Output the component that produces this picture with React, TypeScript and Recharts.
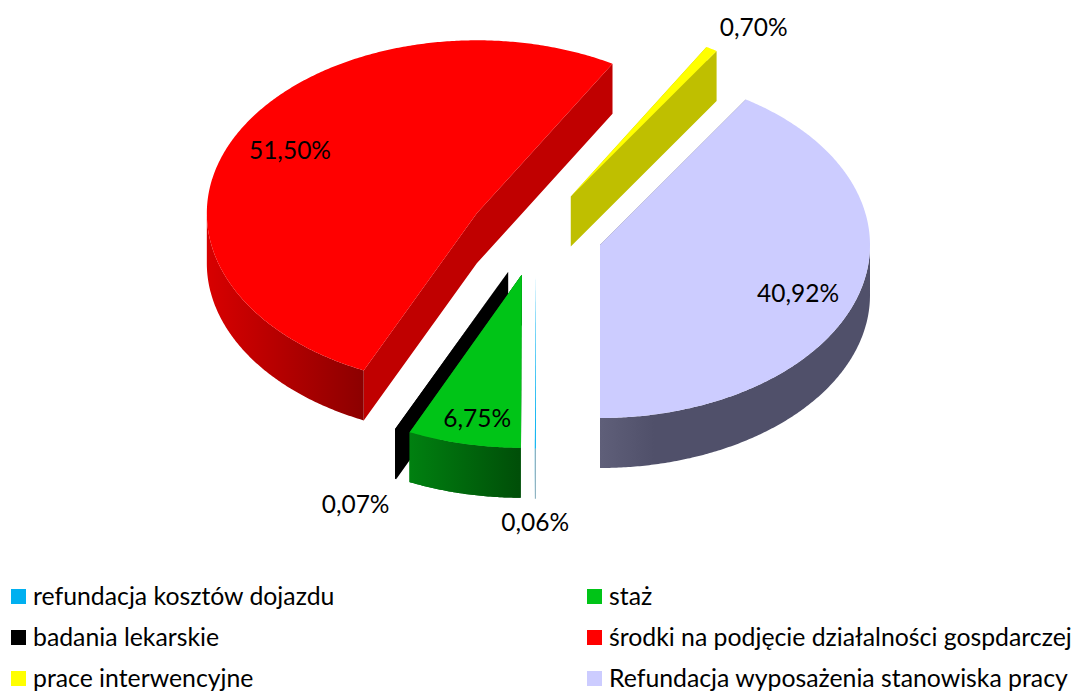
import { PieChart, Pie, Cell, Legend } from "recharts";

const categories = [
  "refundacja kosztów dojazdu",
  "staż",
  "badania lekarskie",
  "środki na podjęcie działalności gospdarczej",
  "prace interwencyjne",
  "Refundacja wyposażenia stanowiska pracy",
];
const shares = [0.06, 6.75, 0.07, 51.5, 0.7, 40.92];

const topColors = ["#00b0f0", "#00c417", "#000000", "#ff0000", "#ffff00", "#ccccff"];
const cutColors = ["#00b0f0", "#008a10", "#000000", "#c00000", "#bfbf00", "#60607a"];
const wallLeft = ["#7fa8b8", "#008010", "#000000", "#d80000", "#bfbf00", "#5f5f79"];
const wallRight = ["#7fa8b8", "#004e08", "#000000", "#8c0000", "#bfbf00", "#50506a"];
const wallStop = [1, 1, 1, 1, 1, 0.2];

const labelRadius = [1.42, 0.84, 1.4, 0.78, 1.15, 0.78];
const labelShiftX = [0, 4, 5, 0, 21, -4];
const labelShiftY = [0, 1, 12, -2, 0, 10];

// staż overlaps badania lekarskie, so it is painted again on a top layer
const frontCategory = "staż";

const data = categories.map((name, i) => ({ name, value: shares[i] }));

const TILT = 173 / 270;
const DEPTH = 50;
const EXPLODE = 0.247;
const RAD = Math.PI / 180;

function apexOf(cx: number, cy: number, r: number, mid: number) {
  return {
    x: cx + EXPLODE * r * Math.cos(mid * RAD),
    y: cy - EXPLODE * r * TILT * Math.sin(mid * RAD),
  };
}

// arc of the flattened pie as a list of points
function arcPoints(x: number, y: number, r: number, from: number, to: number) {
  const steps = Math.max(2, Math.ceil(Math.abs(to - from) / 0.5));
  const pts: number[][] = [];
  for (let i = 0; i <= steps; i++) {
    const a = (from + ((to - from) * i) / steps) * RAD;
    pts.push([x + r * Math.cos(a), y - r * TILT * Math.sin(a)]);
  }
  return pts;
}

const toPath = (pts: number[][]) =>
  "M" + pts.map((p) => `${p[0].toFixed(2)},${p[1].toFixed(2)}`).join("L") + "Z";

function Slice(props: any) {
  const { cx, cy, outerRadius, startAngle, endAngle, midAngle, name } = props;
  const i = categories.indexOf(name ?? props.payload?.name);
  const mid = midAngle ?? (startAngle + endAngle) / 2;
  const apex = apexOf(cx, cy, outerRadius, mid);
  const arc = arcPoints(apex.x, apex.y, outerRadius, startAngle, endAngle);
  const drop = (p: number[]) => [p[0], p[1] + DEPTH];
  const first = arc[0];
  const last = arc[arc.length - 1];
  const base = [apex.x, apex.y];
  const gradientId = `wall-${i}`;
  // only the front of the rim can be seen
  const front = arc.filter((p) => p[1] >= apex.y);
  const wall = [...front, ...front.map(drop).reverse()];
  const cuts =
    toPath([base, first, drop(first), drop(base)]) +
    toPath([base, last, drop(last), drop(base)]);
  return (
    <g>
      <defs>
        <linearGradient id={gradientId} x1="0" y1="0" x2="1" y2="0">
          <stop offset={0} stopColor={wallLeft[i]} />
          <stop offset={wallStop[i]} stopColor={wallRight[i]} />
        </linearGradient>
      </defs>
      <path d={cuts} fill={cutColors[i]} />
      {front.length > 1 && <path d={toPath(wall)} fill={`url(#${gradientId})`} />}
      <path d={toPath([base, ...arc])} fill={topColors[i]} />
    </g>
  );
}

function FrontSlice(props: any) {
  const name = props.name ?? props.payload?.name;
  return name === frontCategory ? <Slice {...props} /> : <g />;
}

function SliceLabel(props: any) {
  const { cx, cy, outerRadius, midAngle, value, name, payload } = props;
  const i = categories.indexOf(name ?? payload?.name);
  const apex = apexOf(cx, cy, outerRadius, midAngle);
  const r = outerRadius * labelRadius[i];
  const x = apex.x + r * Math.cos(midAngle * RAD) + labelShiftX[i];
  const y = apex.y - r * TILT * Math.sin(midAngle * RAD) + labelShiftY[i];
  return (
    <text
      x={x}
      y={y}
      textAnchor="middle"
      dominantBaseline="central"
      fontFamily="Lato"
      fontSize={24.5}
      fill="#000"
    >
      {value.toFixed(2).replace(".", ",") + "%"}
    </text>
  );
}

function LegendGrid({ payload }: any) {
  return (
    <div
      style={{
        display: "grid",
        gridTemplateColumns: "576px 486px",
        gridAutoRows: "41px",
        fontFamily: "Lato",
        fontSize: 24.8,
        lineHeight: "20px",
        color: "#000",
      }}
    >
      {(payload ?? []).map((item: any) => (
        <div
          key={item.value}
          style={{ display: "flex", alignItems: "center", whiteSpace: "nowrap" }}
        >
          <span
            style={{
              width: 15,
              height: 15,
              marginRight: 7,
              flex: "none",
              background: item.color,
            }}
          />
          <span style={{ position: "relative", top: -1 }}>{item.value}</span>
        </div>
      ))}
    </div>
  );
}

export default function App() {
  return (
    <div style={{ position: "absolute", left: 0, top: 0, width: 1073, height: 692 }}>
      <PieChart
        width={1073}
        height={692}
        margin={{ top: 0, right: 0, bottom: 0, left: 0 }}
      >
        <Pie
          data={data}
          dataKey="value"
          nameKey="name"
          cx={536}
          cy={233}
          outerRadius={270}
          startAngle={-90}
          endAngle={-450}
          stroke="none"
          shape={Slice}
          label={false}
          labelLine={false}
          isAnimationActive={false}
        >
          {categories.map((name, i) => (
            <Cell key={name} fill={topColors[i]} />
          ))}
        </Pie>
        <Pie
          data={data}
          dataKey="value"
          nameKey="name"
          cx={536}
          cy={233}
          outerRadius={270}
          startAngle={-90}
          endAngle={-450}
          stroke="none"
          shape={FrontSlice}
          label={SliceLabel}
          labelLine={false}
          legendType="none"
          isAnimationActive={false}
        />
        <Legend
          content={LegendGrid}
          itemSorter={null}
          wrapperStyle={{ left: 11, top: 576, width: 1062, height: 116 }}
        />
      </PieChart>
    </div>
  );
}
